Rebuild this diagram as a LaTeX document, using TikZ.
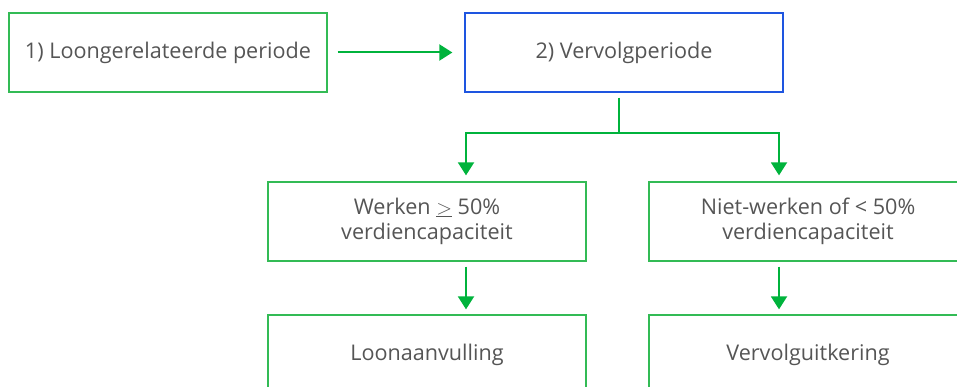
\documentclass[tikz,border=0pt]{standalone}
\usepackage{fontspec}
\setmainfont{Open Sans}
\usetikzlibrary{arrows.meta}
\definecolor{groen}{HTML}{00B33C}
\definecolor{kadergroen}{HTML}{33BB55}
\definecolor{kaderblauw}{HTML}{1E55E0}
\definecolor{tekst}{HTML}{555555}
\tikzset{
  vak/.style={draw=kadergroen, line width=1.3pt, minimum width=318pt, minimum height=79pt,
    inner sep=0pt, align=center, text=tekst, font=\fontsize{21.6}{25}\selectfont},
  pijl/.style={draw=groen, line width=2pt, -{Triangle[width=16pt,length=13pt]}},
}

\begin{document}
\begin{tikzpicture}[x=1pt,y=-1pt]
        \useasboundingbox (0,0) rectangle (957,387);
        \clip (0,0) rectangle (957,387);
        \node[vak] (loonperiode) at (168,52.5) {1) Loongerelateerde periode};
        \node[vak,draw=kaderblauw] (vervolgperiode) at (624,52.5) {2) Vervolgperiode};
        \node[vak] (werken) at (427,221.5) {Werken $\underline{>}$ 50\%\\verdiencapaciteit};
        \node[vak] (nietwerken) at (808,221.5) {Niet-werken of < 50\%\\verdiencapaciteit};
        \node[vak] (loonaanvulling) at (427,354.5) {Loonaanvulling};
        \node[vak] (vervolguitkering) at (808,354.5) {Vervolguitkering};

        \coordinate (splitsing) at (619,133);
        \draw[pijl,shorten <=10pt,shorten >=12pt] (loonperiode) -- (vervolgperiode);
        \draw[pijl,-] ([yshift=-5pt]vervolgperiode.south -| splitsing) -- (splitsing);
        \draw[pijl] (splitsing) -| ([xshift=39pt,yshift=6pt]werken.north);
        \draw[pijl] (splitsing) -| ([xshift=-29pt,yshift=6pt]nietwerken.north);
        \draw[pijl] ([xshift=39pt,yshift=-5pt]werken.south) -- ([xshift=39pt,yshift=5pt]loonaanvulling.north);
        \draw[pijl] ([xshift=-29pt,yshift=-5pt]nietwerken.south) -- ([xshift=-29pt,yshift=5pt]vervolguitkering.north);
    \end{tikzpicture}
\end{document}
